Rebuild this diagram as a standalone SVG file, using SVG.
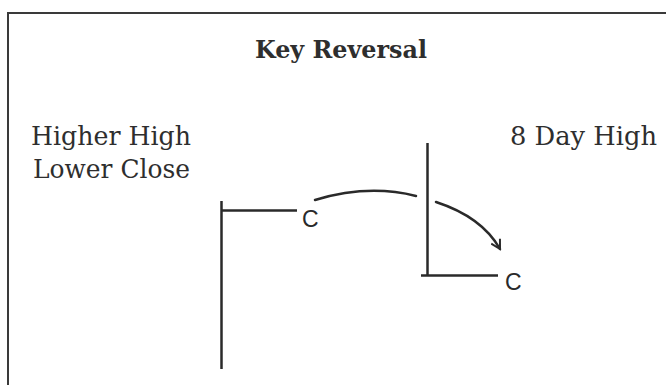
<svg xmlns="http://www.w3.org/2000/svg" width="666" height="385" viewBox="0 0 666 385">
  <style>
    .frame { fill: none; stroke: #3a3a3a; stroke-width: 2; }
    .bar { fill: none; stroke: #2a2a2a; stroke-width: 2.5; }
    .arc { fill: none; stroke: #2a2a2a; stroke-width: 2.5; stroke-linecap: round; }
    .serif { font-family: "DejaVu Serif", "Liberation Serif", serif; fill: #2e2e2e; }
    .title { font-size: 25px; font-weight: bold; }
    .label { font-size: 26px; }
    .c { font-family: "Liberation Sans", Arial, sans-serif; font-size: 23px; fill: #2a2a2a; }
  </style>
  <defs>
    <marker id="open" viewBox="0 0 12 12" refX="10" refY="6" markerWidth="12" markerHeight="12" markerUnits="userSpaceOnUse" orient="auto">
      <path d="M1 1 L10 6 L1 11" fill="none" stroke="#2a2a2a" stroke-width="2"/>
    </marker>
  </defs>
  <rect width="666" height="385" fill="#ffffff"/>
  <rect class="frame" x="8" y="13" width="700" height="420"/>

  <g id="title">
    <text class="serif title" x="255" y="58" textLength="172" lengthAdjust="spacingAndGlyphs">Key Reversal</text>
  </g>
  <g id="label-left">
    <text class="serif label" x="31" y="145" textLength="160" lengthAdjust="spacingAndGlyphs">Higher High</text>
    <text class="serif label" x="33" y="178" textLength="157" lengthAdjust="spacingAndGlyphs">Lower Close</text>
  </g>
  <g id="label-right">
    <text class="serif label" x="510" y="145" textLength="147" lengthAdjust="spacingAndGlyphs">8 Day High</text>
  </g>

  <g id="bar1">
    <line class="bar" x1="221.5" y1="201" x2="221.5" y2="369"/>
    <line class="bar" x1="221" y1="210.5" x2="297" y2="210.5"/>
    <text class="c" x="302" y="227">C</text>
  </g>
  <g id="bar2">
    <line class="bar" x1="427.5" y1="143" x2="427.5" y2="276"/>
    <line class="bar" x1="421" y1="275.5" x2="498" y2="275.5"/>
    <text class="c" x="505" y="290">C</text>
  </g>

  <g id="connectors">
    <path class="arc" d="M315 200 Q368 184 416 196"/>
    <path class="arc" d="M436 202 Q482 217 500 249" marker-end="url(#open)"/>
  </g>
</svg>
